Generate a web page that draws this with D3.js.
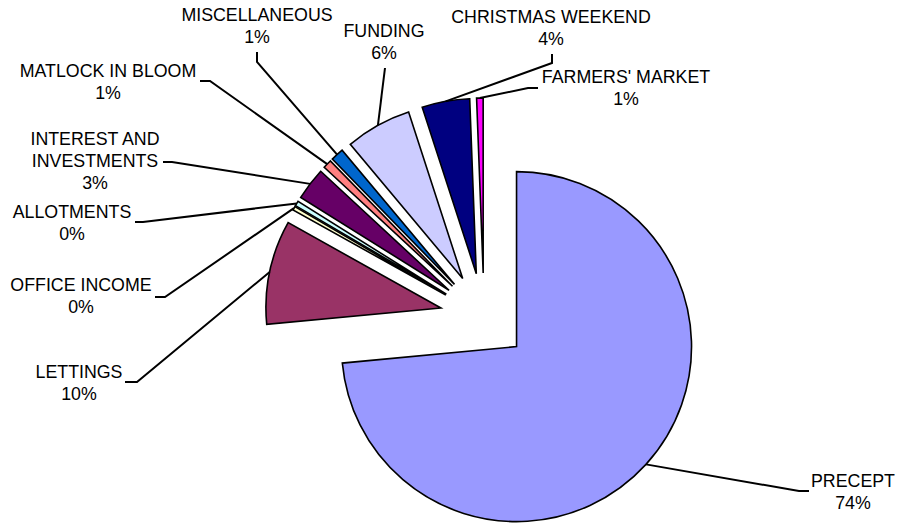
<!DOCTYPE html>
<html>
<head>
<meta charset="utf-8">
<script src="https://cdn.jsdelivr.net/npm/d3@7"></script>
<style>
  html, body { margin: 0; padding: 0; background: #fff; }
  text { font-family: "Liberation Sans", Arial, sans-serif; font-size: 17.8px; fill: #000; }
</style>
</head>
<body>
<div id="pie-chart"></div>
<script>
// Chart data (clockwise from 12 o'clock)
const categories = ["PRECEPT", "LETTINGS", "OFFICE INCOME", "ALLOTMENTS", "INTEREST AND INVESTMENTS",
  "MATLOCK IN BLOOM", "MISCELLANEOUS", "FUNDING", "CHRISTMAS WEEKEND", "FARMERS' MARKET"];
const values = [73.5, 9.6, 0.35, 0.45, 3.0, 0.8, 1.2, 6.1, 4.4, 0.6];
const colors = ["#9999FF", "#993366", "#FFFFCC", "#CCFFFF", "#660066",
  "#FF8080", "#0066CC", "#CCCCFF", "#000080", "#FF00FF"];

// Label text lines (name split as in the original)
const labelLines = [["PRECEPT"], ["LETTINGS"], ["OFFICE INCOME"], ["ALLOTMENTS"], ["INTEREST AND", "INVESTMENTS"],
  ["MATLOCK IN BLOOM"], ["MISCELLANEOUS"], ["FUNDING"], ["CHRISTMAS WEEKEND"], ["FARMERS' MARKET"]];

// Label layout: text centre x, first baseline y, leader elbow and leader end
const labelLayout = [
  { x: 853, y: 487, elbow: [799, 491], end: [809, 491] },
  { x: 79, y: 378, elbow: [137, 382], end: [125, 382] },
  { x: 81, y: 291, elbow: [165, 297], end: [155, 297] },
  { x: 72, y: 218, elbow: [143, 222], end: [135, 222] },
  { x: 95, y: 145, elbow: [172, 162], end: [163, 162] },
  { x: 108, y: 77, elbow: [210, 81], end: [200, 81] },
  { x: 257, y: 21, elbow: [257, 62], end: [257, 52] },
  { x: 384, y: 37, elbow: [385, 68], end: [385, 68] },
  { x: 551, y: 23, elbow: [552, 63], end: [552, 54] },
  { x: 626, y: 83, elbow: [528, 88], end: [538, 88] }
];

const width = 899;
const height = 523;
const cx = 484;
const cy = 317;
const radius = 175;
const explode = 44;
const lineGap = 22;

const svg = d3
  .select("#pie-chart")
  .append("svg")
  .attr("width", width)
  .attr("height", height);

const total = d3.sum(values);
const pie = d3.pie().sort(null).value((d) => d);
const arcs = pie(values);
const arc = d3.arc().innerRadius(0).outerRadius(radius);

const offset = (d, r) => {
  const mid = (d.startAngle + d.endAngle) / 2;
  return [Math.sin(mid) * r, -Math.cos(mid) * r];
};

const g = svg.append("g").attr("transform", `translate(${cx}, ${cy})`);

// Slices, each pulled out along its bisector
g.selectAll(".slice")
  .data(arcs)
  .enter()
  .append("path")
  .attr("class", "slice")
  .attr("d", arc)
  .attr("transform", (d) => {
    const [dx, dy] = offset(d, explode);
    return `translate(${dx}, ${dy})`;
  })
  .style("fill", (d, i) => colors[i])
  .style("stroke", "#000")
  .style("stroke-width", 1.6)
  .style("stroke-linejoin", "miter");

// Leader lines from the outer arc midpoint
svg
  .selectAll(".leader")
  .data(arcs)
  .enter()
  .append("polyline")
  .attr("class", "leader")
  .attr("points", (d, i) => {
    const [ox, oy] = offset(d, explode + radius);
    const L = labelLayout[i];
    return [[cx + ox, cy + oy], L.elbow, L.end].map((p) => p.join(",")).join(" ");
  })
  .style("fill", "none")
  .style("stroke", "#000")
  .style("stroke-width", 2);

// Labels: name lines plus percentage
const labels = svg
  .selectAll(".label")
  .data(arcs)
  .enter()
  .append("text")
  .attr("class", "label")
  .attr("text-anchor", "middle");

labels.each(function (d, i) {
  const L = labelLayout[i];
  const lines = labelLines[i].concat([Math.round((d.data / total) * 100) + "%"]);
  d3.select(this)
    .selectAll("tspan")
    .data(lines)
    .enter()
    .append("tspan")
    .attr("x", L.x)
    .attr("y", (t, j) => L.y + j * lineGap)
    .text((t) => t);
});
</script>
</body>
</html>
